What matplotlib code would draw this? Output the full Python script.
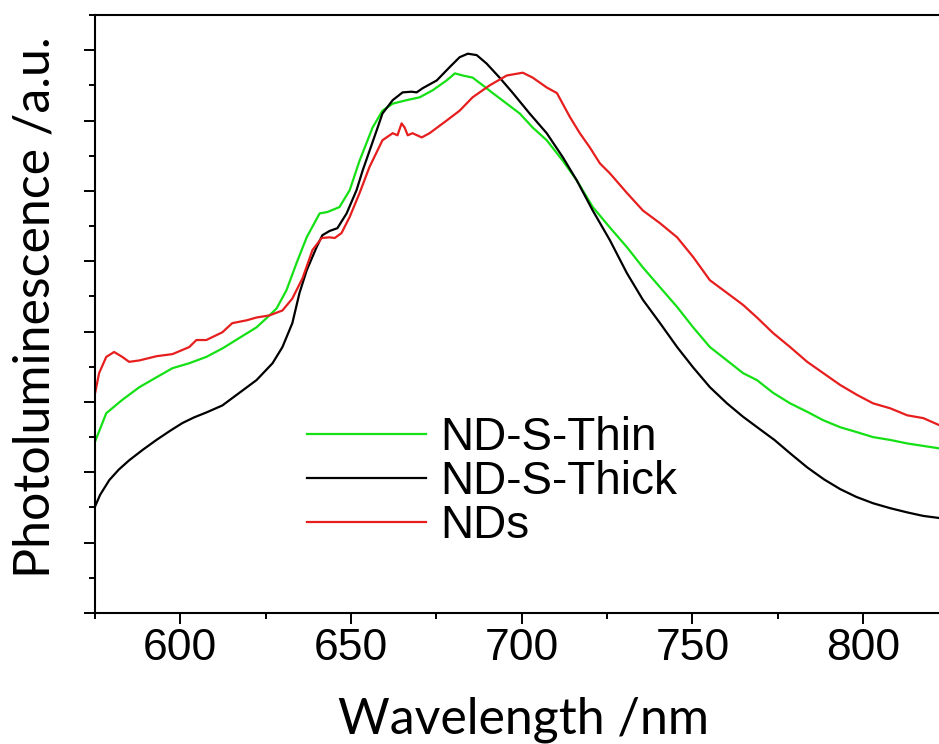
import matplotlib
matplotlib.use("Agg")
import matplotlib.pyplot as plt
from matplotlib.ticker import MultipleLocator, NullFormatter

# PL spectra (wavelength nm, intensity a.u.)
thin_wl = [574.8, 578.3, 583.0, 588.0, 593.0, 597.7, 602.6, 607.6, 612.3, 617.3,
           622.3, 626.1, 628.2, 631.1, 634.0, 637.0, 640.8, 643.1, 646.6, 649.6,
           652.5, 656.3, 659.2, 662.2, 666.3, 670.1, 673.9, 678.0, 680.4, 682.7,
           685.6, 688.6, 691.5, 695.6, 699.4, 703.2, 707.3, 712.0, 716.1, 720.8,
           725.8, 730.8, 735.5, 740.5, 745.5, 750.2, 755.1, 760.1, 764.8, 768.9,
           773.6, 778.6, 783.6, 788.3, 793.3, 798.2, 802.9, 807.9, 812.9, 822.3]
thin_pl = [2.41, 2.84, 3.03, 3.21, 3.35, 3.48, 3.55, 3.64, 3.76, 3.91,
           4.06, 4.23, 4.33, 4.59, 4.97, 5.34, 5.68, 5.70, 5.77, 6.01,
           6.43, 6.90, 7.14, 7.24, 7.29, 7.33, 7.43, 7.57, 7.67, 7.64,
           7.61, 7.50, 7.39, 7.24, 7.10, 6.90, 6.72, 6.43, 6.15, 5.77,
           5.48, 5.20, 4.91, 4.63, 4.35, 4.06, 3.78, 3.59, 3.41, 3.31,
           3.13, 2.98, 2.86, 2.74, 2.64, 2.57, 2.50, 2.46, 2.41, 2.34]

thick_wl = [574.8, 576.5, 579.2, 582.0, 585.0, 589.0, 593.0, 597.0, 600.6, 604.0,
            607.6, 612.3, 617.3, 622.3, 627.0, 629.9, 632.8, 634.9, 637.0, 639.9,
            641.6, 643.7, 646.0, 648.7, 651.6, 653.4, 657.5, 659.2, 662.2, 665.1,
            667.7, 669.2, 671.0, 675.1, 678.9, 681.8, 684.2, 686.8, 689.7, 693.5,
            697.4, 702.3, 707.3, 712.0, 716.1, 720.8, 725.8, 730.8, 735.5, 740.5,
            745.5, 750.2, 755.1, 760.1, 764.8, 769.8, 774.0, 778.6, 783.6, 788.5,
            793.3, 798.0, 802.9, 807.9, 812.9, 817.6, 822.3]
thick_pl = [1.49, 1.68, 1.89, 2.04, 2.17, 2.32, 2.46, 2.59, 2.70, 2.78,
            2.85, 2.95, 3.13, 3.31, 3.55, 3.78, 4.12, 4.55, 4.87, 5.20,
            5.37, 5.43, 5.47, 5.68, 6.01, 6.29, 6.86, 7.10, 7.29, 7.40,
            7.41, 7.40, 7.46, 7.57, 7.76, 7.90, 7.95, 7.93, 7.81, 7.61,
            7.39, 7.10, 6.82, 6.48, 6.15, 5.72, 5.30, 4.83, 4.45, 4.12,
            3.78, 3.49, 3.21, 2.98, 2.79, 2.61, 2.46, 2.27, 2.07, 1.90,
            1.76, 1.65, 1.56, 1.49, 1.43, 1.38, 1.35]

nds_wl = [574.8, 576.2, 578.3, 580.6, 583.0, 585.0, 588.0, 593.0, 597.7, 602.6,
          604.7, 607.6, 612.3, 615.2, 619.4, 622.3, 626.1, 629.9, 632.8, 635.8,
          638.7, 641.4, 643.7, 645.2, 647.2, 649.6, 652.5, 655.4, 659.2, 662.2,
          663.6, 664.8, 665.7, 666.6, 668.0, 670.7, 673.0, 678.0, 681.8, 685.6,
          690.6, 695.6, 700.3, 703.2, 707.3, 710.3, 714.1, 717.0, 719.9, 722.9,
          725.8, 730.8, 735.5, 740.5, 745.5, 750.2, 755.1, 760.1, 764.8, 768.9,
          773.6, 778.6, 783.6, 788.3, 793.3, 798.2, 802.9, 807.9, 812.9, 817.6,
          822.3]
nds_pl = [3.07, 3.41, 3.64, 3.71, 3.64, 3.57, 3.59, 3.65, 3.68, 3.78,
          3.88, 3.88, 3.99, 4.12, 4.16, 4.20, 4.23, 4.30, 4.47, 4.76,
          5.16, 5.33, 5.34, 5.33, 5.40, 5.63, 5.97, 6.34, 6.72, 6.82,
          6.79, 6.96, 6.90, 6.79, 6.82, 6.76, 6.82, 7.00, 7.14, 7.33,
          7.50, 7.64, 7.68, 7.61, 7.47, 7.39, 7.05, 6.82, 6.62, 6.39,
          6.25, 5.97, 5.72, 5.54, 5.34, 5.06, 4.73, 4.55, 4.38, 4.20,
          3.98, 3.78, 3.57, 3.41, 3.24, 3.10, 2.98, 2.91, 2.81, 2.77,
          2.67]

labels = ["ND-S-Thin", "ND-S-Thick", "NDs"]
colors = ["#14e014", "black", "#e61e1e"]

fig = plt.figure(figsize=(9.39, 7.44), dpi=100)
ax = fig.add_axes([95 / 939, 131 / 744, 845 / 939, 598 / 744])

ax.plot(thin_wl, thin_pl, color=colors[0], lw=1.6, label=labels[0])
ax.plot(thick_wl, thick_pl, color=colors[1], lw=1.6, label=labels[1])
ax.plot(nds_wl, nds_pl, color=colors[2], lw=1.6, label=labels[2])

ax.set_xlim(575, 822.5)
ax.set_ylim(0, 8.5)
ax.xaxis.set_major_locator(MultipleLocator(50))
ax.xaxis.set_minor_locator(MultipleLocator(25))
ax.yaxis.set_major_locator(MultipleLocator(1))
ax.yaxis.set_minor_locator(MultipleLocator(0.5))
ax.yaxis.set_major_formatter(NullFormatter())

ax.spines["right"].set_visible(False)
for s in ["left", "bottom", "top"]:
    ax.spines[s].set_linewidth(1.5)
ax.tick_params(which="major", direction="out", length=8, width=1.4, pad=3)
ax.tick_params(which="minor", direction="out", length=4.5, width=1.4)
ax.tick_params(top=False, right=False, which="both")
for t in ax.get_xticklabels():
    t.set_fontfamily("Liberation Sans")
    t.set_fontsize(32)

ax.set_xlabel("Wavelength /nm", family="Lato", fontsize=36)
ax.xaxis.label.set_va("baseline")
ax.xaxis.set_label_coords(0.507, -0.2007)
ax.set_ylabel("Photoluminescence /a.u.", family="Lato", fontsize=36)
ax.yaxis.label.set_va("baseline")
ax.yaxis.set_label_coords(-0.0533, 0.512)

ax.legend(loc="upper left", bbox_to_anchor=(0.2512, 0.330), frameon=False,
          prop={"family": "Liberation Sans", "size": 33}, handlelength=2.6,
          handletextpad=0.3, labelspacing=0.0, borderpad=0, borderaxespad=0)

fig.savefig("out.png", dpi=100)
